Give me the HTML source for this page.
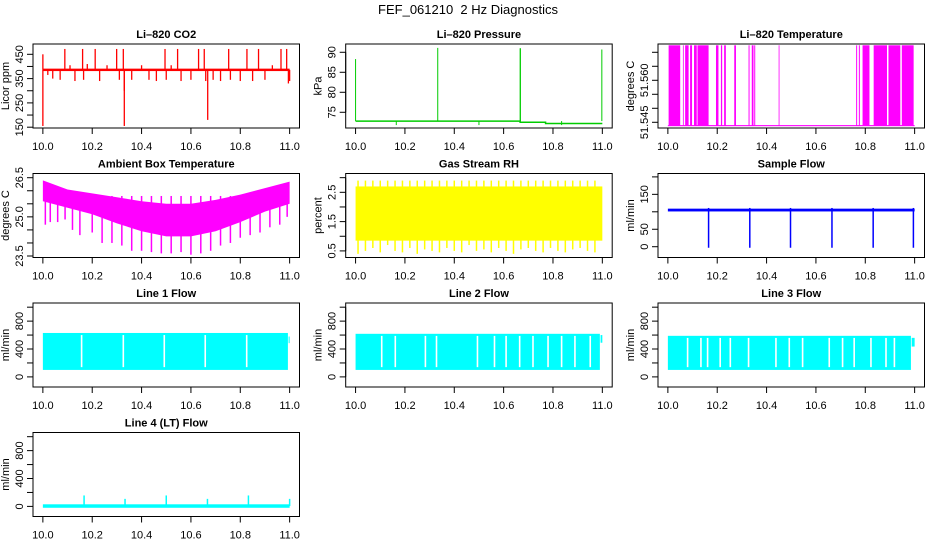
<!DOCTYPE html>
<html><head><meta charset="utf-8"><style>
html,body{margin:0;padding:0;background:#fff;}
svg{display:block;font-family:"Liberation Sans",sans-serif;}
</style></head><body>
<svg id="c" width="936" height="540" viewBox="0 0 936 540">
<text x="468" y="14" text-anchor="middle" font-size="13">FEF_061210&#160; 2 Hz Diagnostics</text>
</svg>
<script>
// ---------- data ----------
const xTicks = [10.0, 10.2, 10.4, 10.6, 10.8, 11.0];
const xTickLabels = ["10.0", "10.2", "10.4", "10.6", "10.8", "11.0"];

const co2Base = 386;
const co2SpikeX = [0.0,0.0,0.02,0.04,0.07,0.089,0.11,0.13,0.161,0.165,0.18,0.212,0.23,0.26,0.299,0.31,0.326,0.33,0.33,0.36,0.40,0.43,0.46,0.495,0.5,0.52,0.546,0.56,0.6,0.631,0.654,0.66,0.668,0.69,0.72,0.753,0.76,0.8,0.827,0.85,0.874,0.9,0.93,0.965,0.988,0.995,1.0];
const co2SpikeY = [155,450,365,350,345,472,405,340,472,345,410,472,340,405,472,345,472,155,300,345,405,345,340,472,345,405,472,340,345,472,472,340,180,345,340,472,345,340,472,340,472,345,405,472,472,330,340];

const presX = [10.0, 10.667, 10.667, 10.77, 10.77, 11.0];
const presY = [72.8, 72.8, 72.5, 72.5, 72.2, 72.2];
const presSpikeX = [10.0, 10.333, 10.667, 10.668, 10.998, 10.165, 10.5, 10.835];
const presSpikeY = [88.3, 91.1, 91.0, 91.0, 90.7, 71.8, 71.8, 71.8];

const tempLow = 51.5438;
const tempHigh = 51.5725;
const tempStart = [0.003,0.061,0.070,0.090,0.106,0.120,0.195,0.215,0.228,0.269,0.327,0.340,0.350,0.449,0.763,0.774,0.789,0.834,0.894,0.948];
const tempEnd   = [0.050,0.063,0.084,0.098,0.117,0.165,0.205,0.220,0.235,0.276,0.331,0.347,0.354,0.451,0.767,0.778,0.817,0.888,0.942,0.996];

const ambX = [10.0,10.1,10.2,10.3,10.4,10.5,10.6,10.7,10.8,10.9,11.0];
const ambUpper = [26.4,26.05,25.9,25.75,25.6,25.5,25.5,25.65,25.85,26.1,26.35];
const ambLower = [25.6,25.35,25.1,24.75,24.45,24.25,24.25,24.45,24.8,25.2,25.5];
const ambSpikeX = [10.01,10.03,10.06,10.09,10.12,10.15,10.2,10.24,10.28,10.32,10.36,10.4,10.44,10.48,10.52,10.56,10.6,10.64,10.68,10.72,10.76,10.8,10.84,10.88,10.92,10.96,10.99];
const ambSpikeY = [24.7,24.8,24.8,24.9,24.5,24.3,24.4,24.0,24.0,23.9,23.7,23.7,23.65,23.6,23.6,23.65,23.55,23.6,23.7,23.9,24.0,24.2,24.3,24.4,24.6,24.7,25.0];

const rhTop = 2.7;
const rhBottom = 0.85;
const rhSpikeX = [0.01,0.04,0.07,0.1,0.13,0.16,0.19,0.22,0.25,0.28,0.31,0.34,0.37,0.4,0.43,0.46,0.49,0.52,0.55,0.58,0.61,0.64,0.67,0.7,0.73,0.76,0.79,0.82,0.85,0.88,0.91,0.94,0.97];
const rhSpikeY = [0.4,0.5,0.6,0.45,0.7,0.5,0.45,0.6,0.4,0.55,0.5,0.45,0.6,0.5,0.45,0.7,0.5,0.55,0.45,0.6,0.5,0.4,0.55,0.6,0.5,0.45,0.6,0.5,0.45,0.55,0.6,0.5,0.45];

const flowBase = 105;
const flowDipX = [10.165,10.332,10.497,10.665,10.832,10.995];
const flowDipY = [-3,-3,-3,-3,-3,-3];

const line1Top = 630, line1Bottom = 100;
const line1Gaps = [0.157,0.326,0.492,0.658,0.826];
const line1EndX = 0.993, line1TailTop = 579, line1TailBottom = 484;

const line2Top = 618, line2Bottom = 100;
const line2Gaps = [0.106,0.161,0.283,0.328,0.494,0.563,0.610,0.665,0.719,0.780,0.835,0.889,0.951];
const line2EndX = 0.99, line2TailTop = 600, line2TailBottom = 490;

const line3Top = 589, line3Bottom = 100;
const line3Gaps = [0.080,0.134,0.161,0.212,0.253,0.327,0.438,0.492,0.546,0.654,0.708,0.755,0.823,0.884,0.918];
const line3EndX = 0.985, line3TailTop = 560, line3TailBottom = 435;

const line4Base = 5;
const line4SpikeX = [10.167,10.333,10.5,10.667,10.833,11.0];
const line4SpikeY = [157,108,157,108,157,108];

// ---------- layout ----------
const NS = "http://www.w3.org/2000/svg";
const svg = document.getElementById('c');
const colL = [33, 345.7, 658], rowT = [44, 173.5, 303, 432.5];
const BW = 266.5, BH = 84;
const XMIN = 9.96, XMAX = 11.04;

function mk(tag, attrs, parent) {
  const e = document.createElementNS(NS, tag);
  for (const k in attrs) e.setAttribute(k, attrs[k]);
  (parent || svg).appendChild(e);
  return e;
}

function panel(col, row, title, ylab, ylo, yhi, ticks, labels, slug) {
  const g = mk('g', {});
  
  
  const L = colL[col], T = rowT[row];
  const sx = v => L + (v - XMIN) / (XMAX - XMIN) * BW;
  const sy = v => T + BH - (v - ylo) / (yhi - ylo) * BH;
  const plot = mk('g', {}, g);
  
  
  const ax = mk('g', {stroke: '#000', 'stroke-width': 1, fill: 'none'}, g);
  
  
  mk('rect', {x: L, y: T, width: BW, height: BH}, ax);
  mk('line', {x1: sx(xTicks[0]), x2: sx(xTicks[xTicks.length-1]), y1: T+BH, y2: T+BH}, ax);
  xTicks.forEach((t, i) => {
    mk('line', {x1: sx(t), x2: sx(t), y1: T+BH, y2: T+BH+6}, ax);
    const tx = mk('text', {x: sx(t), y: T+BH+22, 'text-anchor': 'middle', 'font-size': 11, stroke: 'none', fill: '#000'}, g);
    tx.textContent = xTickLabels[i];
    
    
  });
  mk('line', {x1: L, x2: L, y1: sy(ticks[0]), y2: sy(ticks[ticks.length-1])}, ax);
  ticks.forEach((t, i) => {
    mk('line', {x1: L-6, x2: L, y1: sy(t), y2: sy(t)}, ax);
    if (labels[i]) {
      const tx = mk('text', {transform: `translate(${L-10},${sy(t)}) rotate(-90)`, 'text-anchor': 'middle', 'font-size': 11, fill: '#000'}, g);
      tx.textContent = labels[i];
      
      
    }
  });
  const tt = mk('text', {x: L + BW/2, y: T - 6, 'text-anchor': 'middle', 'font-size': 11, 'font-weight': 'bold'}, g);
  tt.textContent = title;
  
  
  const yl = mk('text', {transform: `translate(${L-24},${T+BH/2}) rotate(-90)`, 'text-anchor': 'middle', 'font-size': 11}, g);
  yl.textContent = ylab;
  
  
  return {plot, sx, sy, L, T};
}
function vline(p, x, y1, y2, color, w) {
  return mk('line', {x1: p.sx(x), x2: p.sx(x), y1: p.sy(y1), y2: p.sy(y2), stroke: color, 'stroke-width': w || 1}, p.plot);
}
function rectD(p, x1, x2, y1, y2, color) {
  return mk('rect', {x: p.sx(x1), y: p.sy(y2), width: Math.max(0.8, p.sx(x2) - p.sx(x1)), height: p.sy(y1) - p.sy(y2), fill: color}, p.plot);
}

// 1 CO2
{
  const p = panel(0, 0, 'Li\u2013820 CO2', 'Licor ppm', 146.7, 492.4, [150,200,250,300,350,400,450], ['150','','250','','350','','450'], 'co2');
  co2SpikeX.forEach((x, i) => { const e = vline(p, 10 + x, co2Base, co2SpikeY[i], '#ff0000', 1.3);   });
  const b = rectD(p, 10.0, 11.0, co2Base - 5, co2Base + 5, '#ff0000');
  
  
}
// 2 Pressure
{
  const p = panel(1, 0, 'Li\u2013820 Pressure', 'kPa', 71.07, 92.07, [75,80,85,90], ['75','80','85','90'], 'pressure');
  const pts = presX.map((x, i) => p.sx(x) + ',' + p.sy(presY[i])).join(' ');
  const l = mk('polyline', {points: pts, fill: 'none', stroke: '#00cc00', 'stroke-width': 1.5}, p.plot);
  
  
  presSpikeX.forEach((x, i) => { const e = vline(p, x, 72.8, presSpikeY[i], '#00cc00', 1);   });
}
// 3 Temperature
{
  const p = panel(2, 0, 'Li\u2013820 Temperature', 'degrees C', 51.54296, 51.57296, [51.545,51.550,51.555,51.560,51.565,51.570], ['51.545','','','51.560','',''], 'temperature');
  const b = rectD(p, 10.0, 11.0, tempLow - 0.0002, tempLow + 0.0002, '#ff00ff');
  
  
  tempStart.forEach((s, i) => { const e = rectD(p, 10 + s, 10 + tempEnd[i], tempLow, tempHigh, '#ff00ff');   });
}
// 4 Ambient
{
  const p = panel(0, 1, 'Ambient Box Temperature', 'degrees C', 23.443, 26.661, [23.5,24,24.5,25,25.5,26,26.5], ['23.5','','','25.0','','','26.5'], 'ambient');
  const pts = ambX.map((x, i) => p.sx(x) + ',' + p.sy(ambUpper[i])).concat(ambX.slice().reverse().map((x, j) => { const i = ambX.length - 1 - j; return p.sx(x) + ',' + p.sy(ambLower[i]); })).join(' ');
  const poly = mk('polygon', {points: pts, fill: '#ff00ff'}, p.plot);
  
  
  ambSpikeX.forEach((x, i) => { const e = vline(p, x, 25.8, ambSpikeY[i], '#ff00ff', 1.5);   });
}
// 5 RH
{
  const p = panel(1, 1, 'Gas Stream RH', 'percent', 0.275, 3.142, [0.5,1,1.5,2,2.5,3], ['0.5','','1.5','','2.5',''], 'rh');
  const b = rectD(p, 10.0, 11.0, rhBottom, rhTop, '#ffff00');
  
  
  rhSpikeX.forEach((x, i) => { const e = vline(p, 10 + x, 2.9, rhSpikeY[i], '#ffff00', 1.5);   });
}
// 6 Sample flow
{
  const p = panel(2, 1, 'Sample Flow', 'ml/min', -30.9, 209.7, [0,50,100,150,200], ['0','50','','150',''], 'sample-flow');
  const b = rectD(p, 10.0, 11.0, flowBase - 4, flowBase + 4, '#0000ff');
  
  
  flowDipX.forEach((x, i) => { const e = vline(p, x, flowBase + 6, flowDipY[i], '#0000ff', 1.5);   });
}
// 7-9 Line flows
function lineFlow(col, row, title, slug, top, bottom, gaps, endX, tailTop, tailBottom) {
  const p = panel(col, row, title, 'ml/min', -145, 1060, [0,200,400,600,800,1000], ['0','','400','','800',''], slug);
  const b = rectD(p, 10.0, 10 + endX, bottom, top, '#00ffff');
  
  
  gaps.forEach(g => { const e = vline(p, 10 + g, bottom + 40, top - 30, '#ffffff', 1.6);   });
  const t = rectD(p, 10 + endX + 0.003, 11.0, tailBottom, tailTop, '#00ffff');
  
  
}
lineFlow(0, 2, 'Line 1 Flow', 'line1-flow', line1Top, line1Bottom, line1Gaps, line1EndX, line1TailTop, line1TailBottom);
lineFlow(1, 2, 'Line 2 Flow', 'line2-flow', line2Top, line2Bottom, line2Gaps, line2EndX, line2TailTop, line2TailBottom);
lineFlow(2, 2, 'Line 3 Flow', 'line3-flow', line3Top, line3Bottom, line3Gaps, line3EndX, line3TailTop, line3TailBottom);
// 10 Line 4
{
  const p = panel(0, 3, 'Line 4 (LT) Flow', 'ml/min', -145, 1060, [0,200,400,600,800,1000], ['0','','400','','800',''], 'line4-flow');
  const b = rectD(p, 10.0, 11.0, line4Base - 25, line4Base + 25, '#00ffff');
  
  
  line4SpikeX.forEach((x, i) => { const e = vline(p, x, line4Base, line4SpikeY[i], '#00ffff', 1.5);   });
}
</script>
</body></html>
